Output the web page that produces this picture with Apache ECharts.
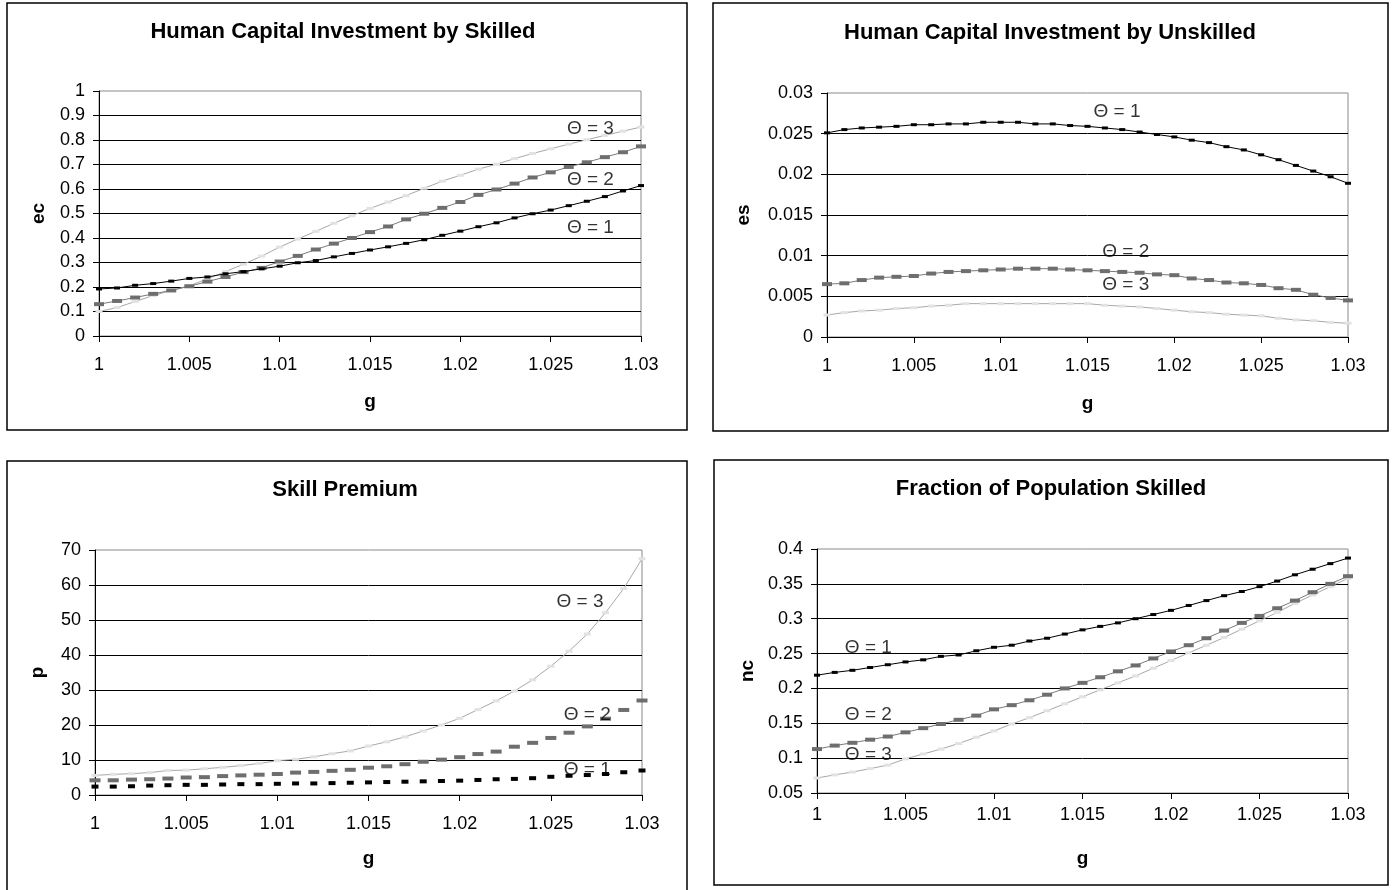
<!DOCTYPE html>
<html>
<head>
<meta charset="utf-8">
<script src="https://cdn.jsdelivr.net/npm/echarts@6/dist/echarts.min.js"></script>
<style>
html,body{margin:0;padding:0;background:#fff;}
#chart{width:1395px;height:890px;}
</style>
</head>
<body>
<div id="chart"></div>
<script>
// growth factor g, shared x values of every panel
const g = [1.000,1.001,1.002,1.003,1.004,1.005,1.006,1.007,1.008,1.009,1.010,
           1.011,1.012,1.013,1.014,1.015,1.016,1.017,1.018,1.019,1.020,
           1.021,1.022,1.023,1.024,1.025,1.026,1.027,1.028,1.029,1.030];

// Human Capital Investment by Skilled (ec)
const ecTheta1 = [0.192,0.196,0.207,0.214,0.224,0.235,0.241,0.254,0.263,0.274,0.285,0.299,0.308,0.323,0.337,0.351,0.364,0.378,0.393,0.411,0.428,0.446,0.462,0.482,0.499,0.514,0.532,0.550,0.569,0.592,0.614];
const ecTheta2 = [0.130,0.143,0.157,0.172,0.186,0.203,0.222,0.241,0.261,0.278,0.304,0.327,0.353,0.377,0.400,0.424,0.447,0.476,0.499,0.523,0.547,0.576,0.598,0.622,0.647,0.668,0.690,0.709,0.730,0.750,0.774];
const ecTheta3 = [0.100,0.116,0.141,0.165,0.186,0.205,0.233,0.263,0.293,0.326,0.363,0.396,0.427,0.460,0.491,0.521,0.547,0.573,0.603,0.632,0.656,0.681,0.701,0.724,0.745,0.764,0.783,0.801,0.819,0.836,0.853];

// Human Capital Investment by Unskilled (es)
const esTheta1 = [0.0251,0.0255,0.0257,0.0258,0.0259,0.0261,0.0261,0.0262,0.0262,0.0264,0.0264,0.0264,0.0262,0.0262,0.0260,0.0259,0.0257,0.0255,0.0252,0.0249,0.0246,0.0242,0.0239,0.0234,0.0230,0.0224,0.0218,0.0211,0.0204,0.0197,0.0189];
const esTheta2 = [0.0065,0.0066,0.0070,0.0073,0.0074,0.0075,0.0078,0.0080,0.0081,0.0082,0.0083,0.0084,0.0084,0.0084,0.0083,0.0082,0.0081,0.0080,0.0079,0.0077,0.0076,0.0072,0.0070,0.0067,0.0066,0.0064,0.0060,0.0058,0.0052,0.0048,0.0045];
const esTheta3 = [0.0027,0.0030,0.0032,0.0033,0.0035,0.0036,0.0038,0.0039,0.0041,0.0041,0.0041,0.0041,0.0041,0.0041,0.0041,0.0041,0.0039,0.0038,0.0037,0.0035,0.0033,0.0031,0.0030,0.0028,0.0027,0.0026,0.0023,0.0021,0.0020,0.0018,0.0017];

// Skill Premium (p)
const pTheta1 = [2.4,2.4,2.5,2.7,2.8,2.9,2.9,3.0,3.1,3.1,3.2,3.3,3.3,3.4,3.5,3.6,3.7,3.8,3.9,4.0,4.1,4.3,4.5,4.6,4.8,5.2,5.5,5.7,6.0,6.5,7.0];
const pTheta2 = [4.2,4.2,4.4,4.5,4.7,5.0,5.1,5.4,5.6,5.8,6.0,6.4,6.6,6.9,7.2,7.8,8.2,8.8,9.5,10.1,10.8,11.7,12.4,13.8,14.9,16.3,17.8,19.6,21.8,24.3,27.0];
const pTheta3 = [5.6,5.9,6.1,6.4,7.0,7.1,7.5,7.9,8.4,9.0,9.8,10.2,10.9,11.8,12.6,14.0,15.2,16.6,18.3,20.0,21.9,24.4,26.9,29.7,32.9,36.8,41.1,46.0,52.1,59.0,67.5];

// Fraction of Population Skilled (nc)
const ncTheta1 = [0.219,0.223,0.226,0.230,0.234,0.238,0.241,0.246,0.248,0.254,0.259,0.262,0.268,0.272,0.278,0.284,0.289,0.294,0.300,0.306,0.312,0.319,0.326,0.333,0.339,0.346,0.354,0.363,0.371,0.379,0.387];
const ncTheta2 = [0.113,0.118,0.122,0.1265,0.131,0.137,0.143,0.149,0.155,0.161,0.170,0.176,0.183,0.191,0.200,0.208,0.216,0.2245,0.233,0.243,0.253,0.262,0.272,0.283,0.294,0.304,0.315,0.326,0.338,0.350,0.361];
const ncTheta3 = [0.0715,0.076,0.080,0.085,0.090,0.099,0.106,0.113,0.121,0.130,0.139,0.149,0.158,0.168,0.178,0.188,0.198,0.208,0.218,0.229,0.240,0.251,0.262,0.273,0.285,0.297,0.309,0.322,0.334,0.346,0.358];

// curve labels, placed in data coordinates (g, value)
const thetaText = ['Θ = 1','Θ = 2','Θ = 3'];
const ecLabelAt = [[1.0272,0.441],[1.0272,0.637],[1.0272,0.845]];
const esLabelAt = [[1.0167,0.0277],[1.0172,0.0105],[1.0172,0.0064]];
const pLabelAt  = [[1.0270,7.1],[1.0270,22.9],[1.0266,55.1]];
const ncLabelAt = [[1.0029,0.259],[1.0029,0.162],[1.0029,0.1045]];

const titles = ['Human Capital Investment by Skilled','Human Capital Investment by Unskilled','Skill Premium','Fraction of Population Skilled'];
const yNames = ['ec','es','p','nc'];
const yRange = [[0,1,0.1],[0,0.03,0.005],[0,70,10],[0.05,0.4,0.05]];

const FONT = '"Liberation Sans", Arial, Helvetica, sans-serif';

// layout of the four panels
const boxes = [[7,3,680,427],[713,3,675,428],[7,461,680,440],[714,460,674,425]];
const grids = [
    {left:99, top:91, width:542, height:245},
    {left:827, top:93, width:521, height:244},
    {left:95, top:550, width:547, height:245},
    {left:817, top:549, width:531, height:244}
];
const titleAt = [[343,32],[1050,33],[345,490],[1051,489]];
const yNameGap = [51,74,48,60];
const xNameGap = [56,57,54,56];
const xLabelMargin = [20,20,20,13];

const chart = echarts.init(document.getElementById('chart'));

function pairs(vals){
    return g.map((x,i)=>[x, vals[i]]);
}

// style of each theta curve; skill premium uses bare dashes for 1 and 2
function curve(idx, vals, theta, dashOnly){
    const st = [
        {line:'#000000', mark:'#000000', size:[6,3]},
        {line:'#7a7a7a', mark:'#6e6e6e', size:[10,4]},
        {line:'#a8a8a8', mark:'#e2e2e2', size:[7,3]}
    ][theta];
    return {
        type:'line',
        xAxisIndex:idx, yAxisIndex:idx,
        data:pairs(vals),
        symbol:'rect',
        symbolSize: dashOnly ? (theta === 0 ? [7,4] : [11,4]) : st.size,
        showSymbol:true,
        itemStyle:{color:st.mark},
        lineStyle:{color:st.line, width: dashOnly ? 0 : 1, opacity: dashOnly ? 0 : 1},
        z: 3 - theta,
        silent:true
    };
}

function labels(idx, pos){
    return {
        type:'scatter',
        xAxisIndex:idx, yAxisIndex:idx,
        symbolSize:0,
        data:pos.map((p,i)=>({value:p, name:thetaText[i]})),
        label:{show:true, position:'inside', formatter:(p)=>p.name,
               color:'#000', fontFamily:FONT, fontSize:19},
        z:10,
        silent:true
    };
}

const xAxes = grids.map((gr,i)=>({
    type:'value', gridIndex:i,
    min:1, max:1.03, interval:0.005,
    name:'g', nameLocation:'middle', nameGap:xNameGap[i],
    nameTextStyle:{fontFamily:FONT, fontSize:19, fontWeight:'bold', color:'#000'},
    axisLine:{show:true, onZero:false, lineStyle:{color:'#000', width:1}},
    axisTick:{show:true, length:6, lineStyle:{color:'#000'}},
    axisLabel:{margin:xLabelMargin[i], fontFamily:FONT, fontSize:18, color:'#000'},
    splitLine:{show:false}
}));

const yAxes = grids.map((gr,i)=>({
    type:'value', gridIndex:i,
    min:yRange[i][0], max:yRange[i][1], interval:yRange[i][2],
    name:yNames[i], nameLocation:'middle', nameGap:yNameGap[i], nameRotate:90,
    nameTextStyle:{fontFamily:FONT, fontSize:19, fontWeight:'bold', color:'#000'},
    axisLine:{show:true, onZero:false, lineStyle:{color:'#000', width:1}},
    axisTick:{show:true, length:6, lineStyle:{color:'#000'}},
    axisLabel:{margin:14, fontFamily:FONT, fontSize:18, color:'#000'},
    splitLine:{show:true, showMaxLine:false, lineStyle:{color:'#000', width:1}}
}));

const graphic = [];
boxes.forEach(b=>{
    graphic.push({type:'rect', shape:{x:b[0], y:b[1], width:b[2], height:b[3]},
        style:{fill:'none', stroke:'#000', lineWidth:1.5}, silent:true});
});
titles.forEach((t,i)=>{
    graphic.push({type:'text', x:titleAt[i][0], y:titleAt[i][1],
        style:{text:t, fill:'#000', font:'bold 22px ' + FONT, align:'center', verticalAlign:'middle'},
        silent:true});
});

const series = [
    curve(0, ecTheta3, 2), curve(0, ecTheta2, 1), curve(0, ecTheta1, 0), labels(0, ecLabelAt),
    curve(1, esTheta3, 2), curve(1, esTheta2, 1), curve(1, esTheta1, 0), labels(1, esLabelAt),
    curve(2, pTheta3, 2), curve(2, pTheta2, 1, true), curve(2, pTheta1, 0, true), labels(2, pLabelAt),
    curve(3, ncTheta3, 2), curve(3, ncTheta2, 1), curve(3, ncTheta1, 0), labels(3, ncLabelAt)
];

chart.setOption({
    animation:false,
    backgroundColor:'#fff',
    grid:grids.map(gr=>Object.assign({show:true, borderColor:'#8a8a8a', borderWidth:1, backgroundColor:'transparent'}, gr)),
    xAxis:xAxes,
    yAxis:yAxes,
    graphic:graphic,
    series:series
});
</script>
</body>
</html>
